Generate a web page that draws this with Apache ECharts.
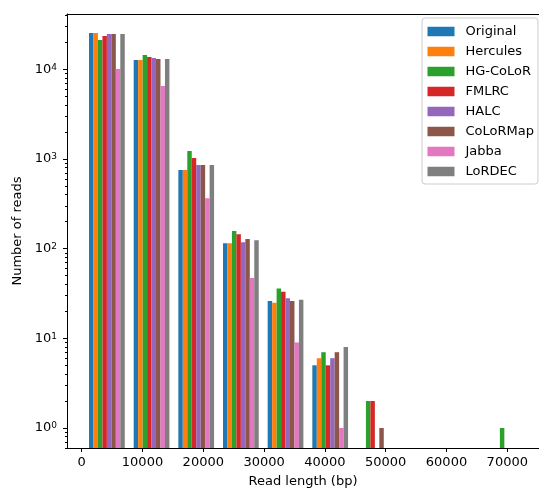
<!DOCTYPE html>
<html>
<head>
<meta charset="utf-8">
<script src="https://cdn.jsdelivr.net/npm/echarts@6/dist/echarts.min.js"></script>
<style>
  html, body { margin: 0; padding: 0; background: #fff; }
  #main { width: 539px; height: 489px; }
</style>
</head>
<body>
<div id="main"></div>
<script>
// bins of read length (bp), centre of each histogram bin
var binCenters = [4145, 11490, 18835, 26180, 33525, 40870, 48215, 55560, 62905, 70250];
var BIN_W = 7345;

// number of reads per bin (0 = empty bin)
var original = [25400, 12700, 752, 115, 26, 5, 0, 0, 0, 0];
var hercules = [25400, 12700, 752, 115, 25, 6, 0, 0, 0, 0];
var hgcolor  = [21200, 14450, 1225, 157, 36, 7, 2, 0, 0, 1];
var fmlrc    = [23500, 13700, 1023, 145, 33, 5, 2, 0, 0, 0];
var halc     = [24800, 13360, 855, 118, 28, 6, 0, 0, 0, 0];
var colormap = [24800, 13030, 855, 128, 26, 7, 1, 0, 0, 0];
var jabba    = [10070, 6520, 366, 47, 9, 1, 0, 0, 0, 0];
var lordec   = [24800, 13030, 855, 124, 27, 8, 0, 0, 0, 0];

var seriesNames = ['Original', 'Hercules', 'HG-CoLoR', 'FMLRC', 'HALC', 'CoLoRMap', 'Jabba', 'LoRDEC'];
var seriesData = [original, hercules, hgcolor, fmlrc, halc, colormap, jabba, lordec];
var colors = ['#1f77b4', '#ff7f0e', '#2ca02c', '#d62728', '#9467bd', '#8c564b', '#e377c2', '#7f7f7f'];

var xTicks = [0, 10000, 20000, 30000, 40000, 50000, 60000, 70000];
var yTicks = [1, 10, 100, 1000, 10000];

// the right spine lies outside the picture, so the axis ends at the canvas edge
var X_MIN = -2418, X_MAX = 75214;
var Y_MIN = 0.598, Y_MAX = 41400;
var FONT = 'DejaVu Sans';

// minor log ticks 2..9 x 10^n inside the range
var yMinor = [];
[0.1, 1, 10, 100, 1000, 10000].forEach(function (d) {
  for (var k = 2; k <= 9; k++) {
    var v = k * d;
    if (v >= Y_MIN && v <= Y_MAX) yMinor.push(Math.log10(v));
  }
});

// histogram bars: 8 side by side bars fill 80% of each bin, starting at the bottom of the axis
function renderBar(params, api) {
  var s = params.seriesIndex;
  var x = api.value(0), y = api.value(1);
  var l = api.coord([x - BIN_W / 2, y]);
  var r = api.coord([x + BIN_W / 2, y]);
  var band = r[0] - l[0];
  var w = band * 0.8 / seriesNames.length;
  var base = api.coord([x, Y_MIN])[1];
  return {
    type: 'rect',
    shape: { x: l[0] + band * 0.1 + s * w, y: l[1], width: w, height: base - l[1] },
    style: { fill: colors[s] }
  };
}

var series = seriesNames.map(function (name, s) {
  var data = [];
  seriesData[s].forEach(function (v, i) {
    if (v > 0) data.push([binCenters[i], v]);
  });
  return {
    name: name,
    type: 'custom',
    xAxisIndex: 0,
    yAxisIndex: 0,
    renderItem: renderBar,
    itemStyle: { color: colors[s] },
    encode: { x: 0, y: 1 },
    data: data
  };
});

var sup = { s: { fontSize: 9, lineHeight: 9, fontFamily: FONT, color: '#000', verticalAlign: 'top' },
            b: { fontSize: 13, lineHeight: 13, fontFamily: FONT, color: '#000', verticalAlign: 'bottom' } };

var option = {
  animation: false,
  color: colors,
  textStyle: { fontFamily: FONT },
  grid: { left: 67, right: 0, top: 14, bottom: 41, outerBoundsMode: 'none', containLabel: false },
  legend: {
    orient: 'vertical',
    left: 422,
    top: 18,
    icon: 'rect',
    itemWidth: 27,
    itemHeight: 9.5,
    itemGap: 7,
    padding: [7, 4, 6, 5.5],
    backgroundColor: 'rgba(255,255,255,0.8)',
    borderColor: '#cccccc',
    borderWidth: 1,
    borderRadius: 3,
    textStyle: { fontSize: 13, fontFamily: FONT, color: '#000', padding: [0, 0, 0, 6] },
    data: seriesNames
  },
  xAxis: [
    {
      type: 'value',
      min: X_MIN,
      max: X_MAX,
      name: 'Read length (bp)',
      nameLocation: 'middle',
      nameGap: 27,
      nameTextStyle: { fontSize: 13, fontFamily: FONT, color: '#000' },
      axisLine: { onZero: false, lineStyle: { color: '#000', width: 1 } },
      axisTick: { customValues: xTicks, length: 4, lineStyle: { color: '#000' } },
      axisLabel: {
        customValues: xTicks, fontSize: 13, fontFamily: FONT, color: '#000', margin: 8,
        formatter: function (v) { return String(v); }
      },
      splitLine: { show: false }
    },
    {
      // top spine only
      type: 'value',
      position: 'top',
      min: X_MIN,
      max: X_MAX,
      axisLine: { show: true, onZero: false, lineStyle: { color: '#000', width: 1 } },
      axisTick: { show: false },
      axisLabel: { show: false },
      splitLine: { show: false }
    }
  ],
  yAxis: [
    {
      type: 'log',
      min: Y_MIN,
      max: Y_MAX,
      show: false,
      axisLine: { onZero: false },
      splitLine: { show: false }
    },
    {
      type: 'value',
      min: Math.log10(Y_MIN),
      max: Math.log10(Y_MAX),
      position: 'left',
      name: 'Number of reads',
      nameLocation: 'middle',
      nameRotate: 90,
      nameGap: 35,
      nameTextStyle: { fontSize: 13, fontFamily: FONT, color: '#000' },
      axisLine: { show: true, onZero: false, lineStyle: { color: '#000', width: 1 } },
      axisTick: { customValues: yTicks.map(Math.log10), length: 4, lineStyle: { color: '#000' } },
      axisLabel: {
        customValues: yTicks.map(Math.log10),
        margin: 10,
        formatter: function (v) { return '{b|10}{s|' + Math.round(v) + '}'; },
        rich: sup
      },
      splitLine: { show: false }
    },
    {
      // minor log ticks
      type: 'value',
      min: Math.log10(Y_MIN),
      max: Math.log10(Y_MAX),
      position: 'left',
      axisLine: { show: false, onZero: false },
      axisTick: { customValues: yMinor, length: 2, lineStyle: { color: '#000' } },
      axisLabel: { show: false },
      splitLine: { show: false }
    }
  ],
  series: series
};

var chart = echarts.init(document.getElementById('main'), null, { renderer: 'canvas' });
chart.setOption(option);
</script>
</body>
</html>
